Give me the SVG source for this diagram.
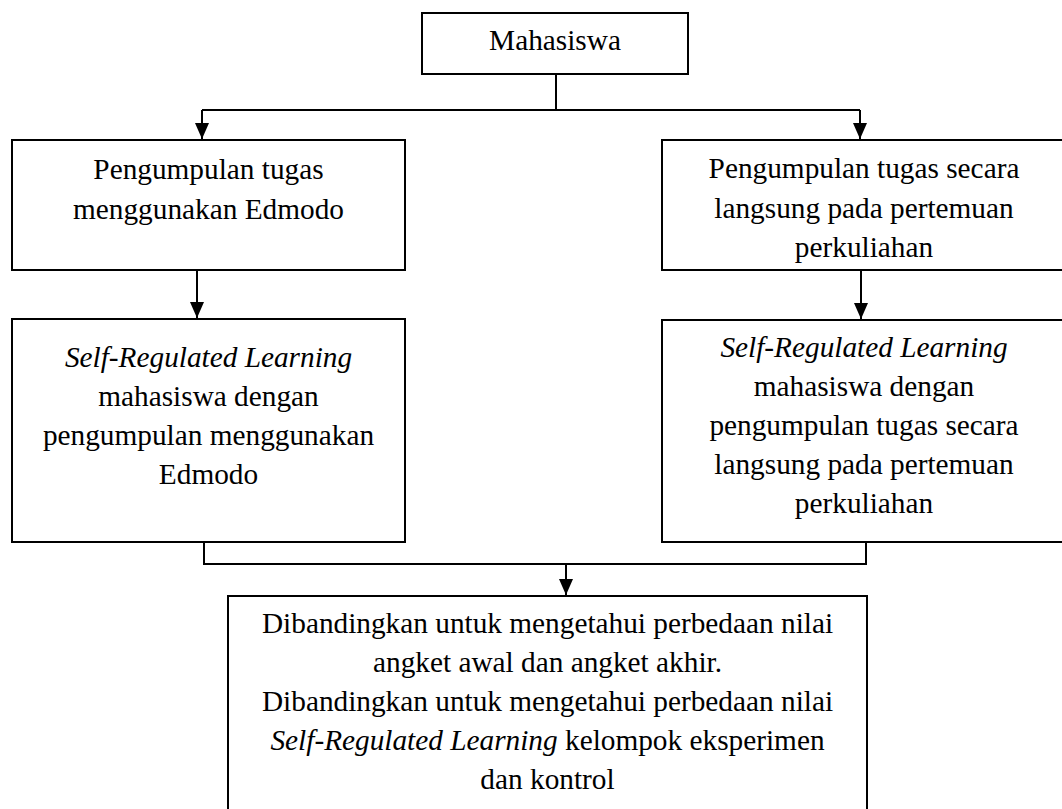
<svg xmlns="http://www.w3.org/2000/svg" width="1062" height="809" viewBox="0 0 1062 809">
  <style>
    .box { fill: #ffffff; stroke: #000000; stroke-width: 2; }
    .conn { fill: none; stroke: #000000; stroke-width: 2; }
    text { font-family: "Liberation Serif", "Times New Roman", serif; font-size: 29.3px; fill: #000000; text-anchor: middle; }
    .it { font-style: italic; }
  </style>
  <defs>
    <marker id="arrow" markerUnits="userSpaceOnUse" markerWidth="16" markerHeight="14" viewBox="0 0 16 14" refX="16" refY="7" orient="auto">
      <path d="M0,0 L16,7 L0,14 z" fill="#000000"/>
    </marker>
  </defs>
  <rect width="1062" height="809" fill="#ffffff"/>

  <g id="connectors">
    <path class="conn" d="M556,74 V110"/>
    <path class="conn" d="M202,110 H860"/>
    <path class="conn" d="M202,110 V139" marker-end="url(#arrow)"/>
    <path class="conn" d="M860,110 V139" marker-end="url(#arrow)"/>
    <path class="conn" d="M197,270 V318" marker-end="url(#arrow)"/>
    <path class="conn" d="M861,270 V319" marker-end="url(#arrow)"/>
    <path class="conn" d="M204,542 V564 H866 V542"/>
    <path class="conn" d="M566,564 V595" marker-end="url(#arrow)"/>
  </g>

  <g id="node-mahasiswa">
    <rect class="box" x="422" y="13" width="266" height="61"/>
    <text x="555" y="50">Mahasiswa</text>
  </g>

  <g id="node-edmodo">
    <rect class="box" x="12" y="140" width="393" height="130"/>
    <text x="208.5" y="179">Pengumpulan tugas</text>
    <text x="208.5" y="219">menggunakan Edmodo</text>
  </g>

  <g id="node-langsung">
    <rect class="box" x="662" y="140" width="412" height="130"/>
    <text x="864" y="178">Pengumpulan tugas secara</text>
    <text x="864" y="218">langsung pada pertemuan</text>
    <text x="864" y="257">perkuliahan</text>
  </g>

  <g id="node-srl-edmodo">
    <rect class="box" x="12" y="319" width="393" height="223"/>
    <text x="208.5" y="367" class="it">Self-Regulated Learning</text>
    <text x="208.5" y="406">mahasiswa dengan</text>
    <text x="208.5" y="445">pengumpulan menggunakan</text>
    <text x="208.5" y="484">Edmodo</text>
  </g>

  <g id="node-srl-langsung">
    <rect class="box" x="662" y="320" width="412" height="222"/>
    <text x="864" y="357" class="it">Self-Regulated Learning</text>
    <text x="864" y="396">mahasiswa dengan</text>
    <text x="864" y="435">pengumpulan tugas secara</text>
    <text x="864" y="474">langsung pada pertemuan</text>
    <text x="864" y="513">perkuliahan</text>
  </g>

  <g id="node-dibandingkan">
    <rect class="box" x="228" y="596" width="639" height="240"/>
    <text x="547.5" y="633">Dibandingkan untuk mengetahui perbedaan nilai</text>
    <text x="547.5" y="672">angket awal dan angket akhir.</text>
    <text x="547.5" y="711">Dibandingkan untuk mengetahui perbedaan nilai</text>
    <text x="547.5" y="750"><tspan class="it">Self-Regulated Learning</tspan> kelompok eksperimen</text>
    <text x="547.5" y="789">dan kontrol</text>
  </g>
</svg>
